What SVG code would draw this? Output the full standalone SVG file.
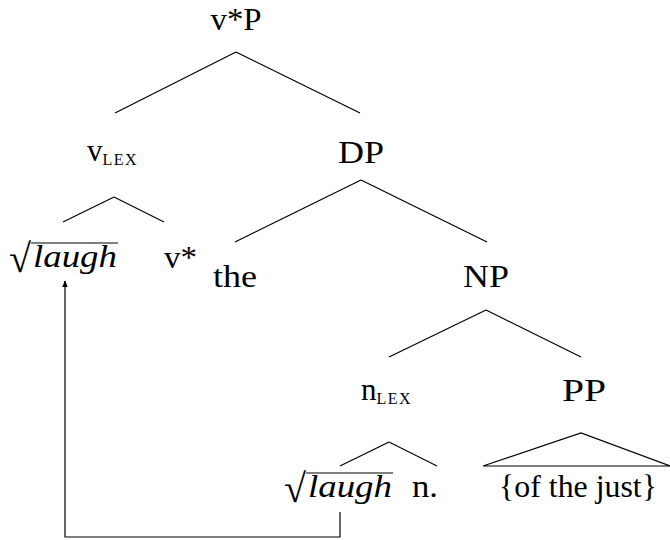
<svg xmlns="http://www.w3.org/2000/svg" width="670" height="540" viewBox="0 0 670 540">
<defs>
<style>
.lbl{text-anchor:middle}
.sub{font-size:16px;letter-spacing:1.5px}
.it{font-style:italic}
.rad{font-size:40px}
line,polyline,path{stroke:#000;stroke-width:1.2;fill:none}
</style>
<marker id="arr" viewBox="0 0 10 10" refX="9" refY="5" markerWidth="7" markerHeight="7" orient="auto" markerUnits="userSpaceOnUse">
<path d="M0,1 L10,5 L0,9 Z" style="fill:#000;stroke:none"/>
</marker>
</defs>
<rect width="670" height="540" fill="#fff"/>
<g id="edges">
<line x1="236" y1="52" x2="115" y2="113"/>
<line x1="236" y1="52" x2="360" y2="113"/>
<line x1="114" y1="197" x2="63" y2="222"/>
<line x1="114" y1="197" x2="164" y2="222"/>
<line x1="361" y1="180" x2="235" y2="242"/>
<line x1="361" y1="180" x2="487" y2="242"/>
<line x1="486" y1="310" x2="389" y2="357"/>
<line x1="486" y1="310" x2="581" y2="357"/>
<line x1="389" y1="442" x2="340" y2="466"/>
<line x1="389" y1="442" x2="437" y2="466"/>
<path d="M483,466 L581,433 L670,466 Z"/>
<polyline points="340,512 340,537 65,537 65,281" marker-end="url(#arr)"/>
</g>
<g font-family="'Liberation Serif', 'Times New Roman', serif" font-size="31" fill="#000">
<g id="vstarP"><text class="lbl" x="236" y="30" textLength="51" lengthAdjust="spacingAndGlyphs">v*P</text></g>
<g id="vlex"><text x="87" y="161">v<tspan class="sub" dy="4">LEX</tspan></text></g>
<g id="DP"><text class="lbl" x="361" y="163" textLength="46" lengthAdjust="spacingAndGlyphs">DP</text></g>
<g id="root1"><text class="rad" x="9" y="272">√</text><line x1="31" y1="243" x2="118" y2="243"/><text class="it" x="33" y="267" textLength="84" lengthAdjust="spacingAndGlyphs">laugh</text></g>
<g id="vstar"><text x="164" y="268" textLength="33" lengthAdjust="spacingAndGlyphs">v*</text></g>
<g id="the"><text class="lbl" x="235" y="287" textLength="44" lengthAdjust="spacingAndGlyphs">the</text></g>
<g id="NP"><text class="lbl" x="486" y="287" textLength="46" lengthAdjust="spacingAndGlyphs">NP</text></g>
<g id="nlex"><text x="361" y="400">n<tspan class="sub" dy="4">LEX</tspan></text></g>
<g id="PP"><text class="lbl" x="584" y="401" textLength="44" lengthAdjust="spacingAndGlyphs">PP</text></g>
<g id="root2"><text class="rad" x="284" y="502">√</text><line x1="306" y1="473" x2="393" y2="473"/><text class="it" x="308" y="497" textLength="84" lengthAdjust="spacingAndGlyphs">laugh</text></g>
<g id="n"><text x="412" y="497" textLength="26" lengthAdjust="spacingAndGlyphs">n.</text></g>
<g id="ofthejust"><text class="lbl" x="578" y="497" textLength="158" lengthAdjust="spacingAndGlyphs">{of the just}</text></g>
</g>
</svg>
